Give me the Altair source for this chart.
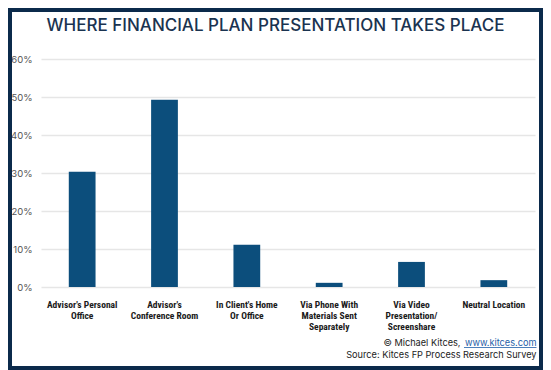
import altair as alt
import pandas as pd

# ---- data ----
label_lines = [
    ["Advisor's Personal", "Office"],
    ["Advisor's", "Conference Room"],
    ["In Client's Home", "Or Office"],
    ["Via Phone With", "Materials Sent", "Separately"],
    ["Via Video", "Presentation/", "Screenshare"],
    ["Neutral Location"],
]
shares = [30.3, 49.3, 11.1, 1.1, 6.6, 1.8]  # percent
y_ticks = [0, 0.1, 0.2, 0.3, 0.4, 0.5, 0.6]

title_text = "WHERE FINANCIAL PLAN PRESENTATION TAKES PLACE"
credit_text = "© Michael Kitces,"
link_text = "www.kitces.com"
source_text = "Source: Kitces FP Process Research Survey"

categories = ["|".join(l) for l in label_lines]
df = pd.DataFrame({"category": categories, "share": [s / 100 for s in shares]})

NAVY = "#0b2a4b"
BAR = "#0c4e7c"
TFONT = "Inter"
LFONT = "Roboto Condensed"

W, H = 494, 228

bars = alt.Chart(df).mark_bar(color=BAR).encode(
    x=alt.X(
        "category:N",
        sort=None,
        scale=alt.Scale(paddingInner=0.675, paddingOuter=0.3375),
        axis=alt.Axis(
            title=None,
            labelAngle=0,
            labelExpr="split(datum.label, '|')",
            labelFont=LFONT,
            labelFontWeight="bold",
            labelFontSize=9.5,
            labelLineHeight=11,
            labelColor="#1a1a1a",
            labelPadding=12,
            ticks=False,
            domain=False,
            grid=False,
            labelLimit=0,
        ),
    ),
    y=alt.Y(
        "share:Q",
        scale=alt.Scale(domain=[0, 0.6]),
        axis=alt.Axis(
            title=None,
            values=y_ticks,
            format=".0%",
            labelFont=TFONT,
            labelFontSize=9.5,
            labelColor="#555555",
            labelPadding=9,
            ticks=False,
            domain=False,
            grid=True,
            gridColor="#e6e6e6",
            gridWidth=1.5,
        ),
    ),
)

title = alt.Chart(pd.DataFrame({"t": [title_text]})).mark_text(
    font=TFONT, fontSize=17, fontWeight=500, color="#1a3350",
    align="center", baseline="alphabetic",
).encode(text="t:N", x=alt.value(234.5), y=alt.value(-28))

FS = 9.2
credit = alt.Chart(pd.DataFrame({"t": [credit_text]})).mark_text(
    font=TFONT, fontSize=FS, color="#222222", align="right", baseline="alphabetic",
).encode(text="t:N", x=alt.value(419.5), y=alt.value(286.7))

link = alt.Chart(pd.DataFrame({"t": [link_text]})).mark_text(
    font=TFONT, fontSize=FS, color="#1f5fa8", align="right", baseline="alphabetic",
).encode(text="t:N", x=alt.value(495.5), y=alt.value(286.7))

underline = alt.Chart(pd.DataFrame({"t": [0]})).mark_rule(color="#1f5fa8", strokeWidth=0.8).encode(
    x=alt.value(423), x2=alt.value(495.5), y=alt.value(288.5)
)

source = alt.Chart(pd.DataFrame({"t": [source_text]})).mark_text(
    font=TFONT, fontSize=FS, color="#222222", align="right", baseline="alphabetic",
).encode(text="t:N", x=alt.value(495.5), y=alt.value(298.7))

border = alt.Chart(pd.DataFrame({"t": [0]})).mark_rect(
    fill="white", fillOpacity=0, stroke=NAVY, strokeWidth=4
).encode(x=alt.value(-31), x2=alt.value(500), y=alt.value(-49), y2=alt.value(309))

chart = alt.layer(bars, title, credit, link, underline, source, border).properties(
    width=W,
    height=H,
    autosize=alt.AutoSizeParams(type="none"),
    padding={"left": 33, "top": 51, "right": 8, "bottom": 83},
    background="white",
).configure_view(stroke=None)

chart.save("out.html", embed_options={"renderer": "svg", "actions": False})
